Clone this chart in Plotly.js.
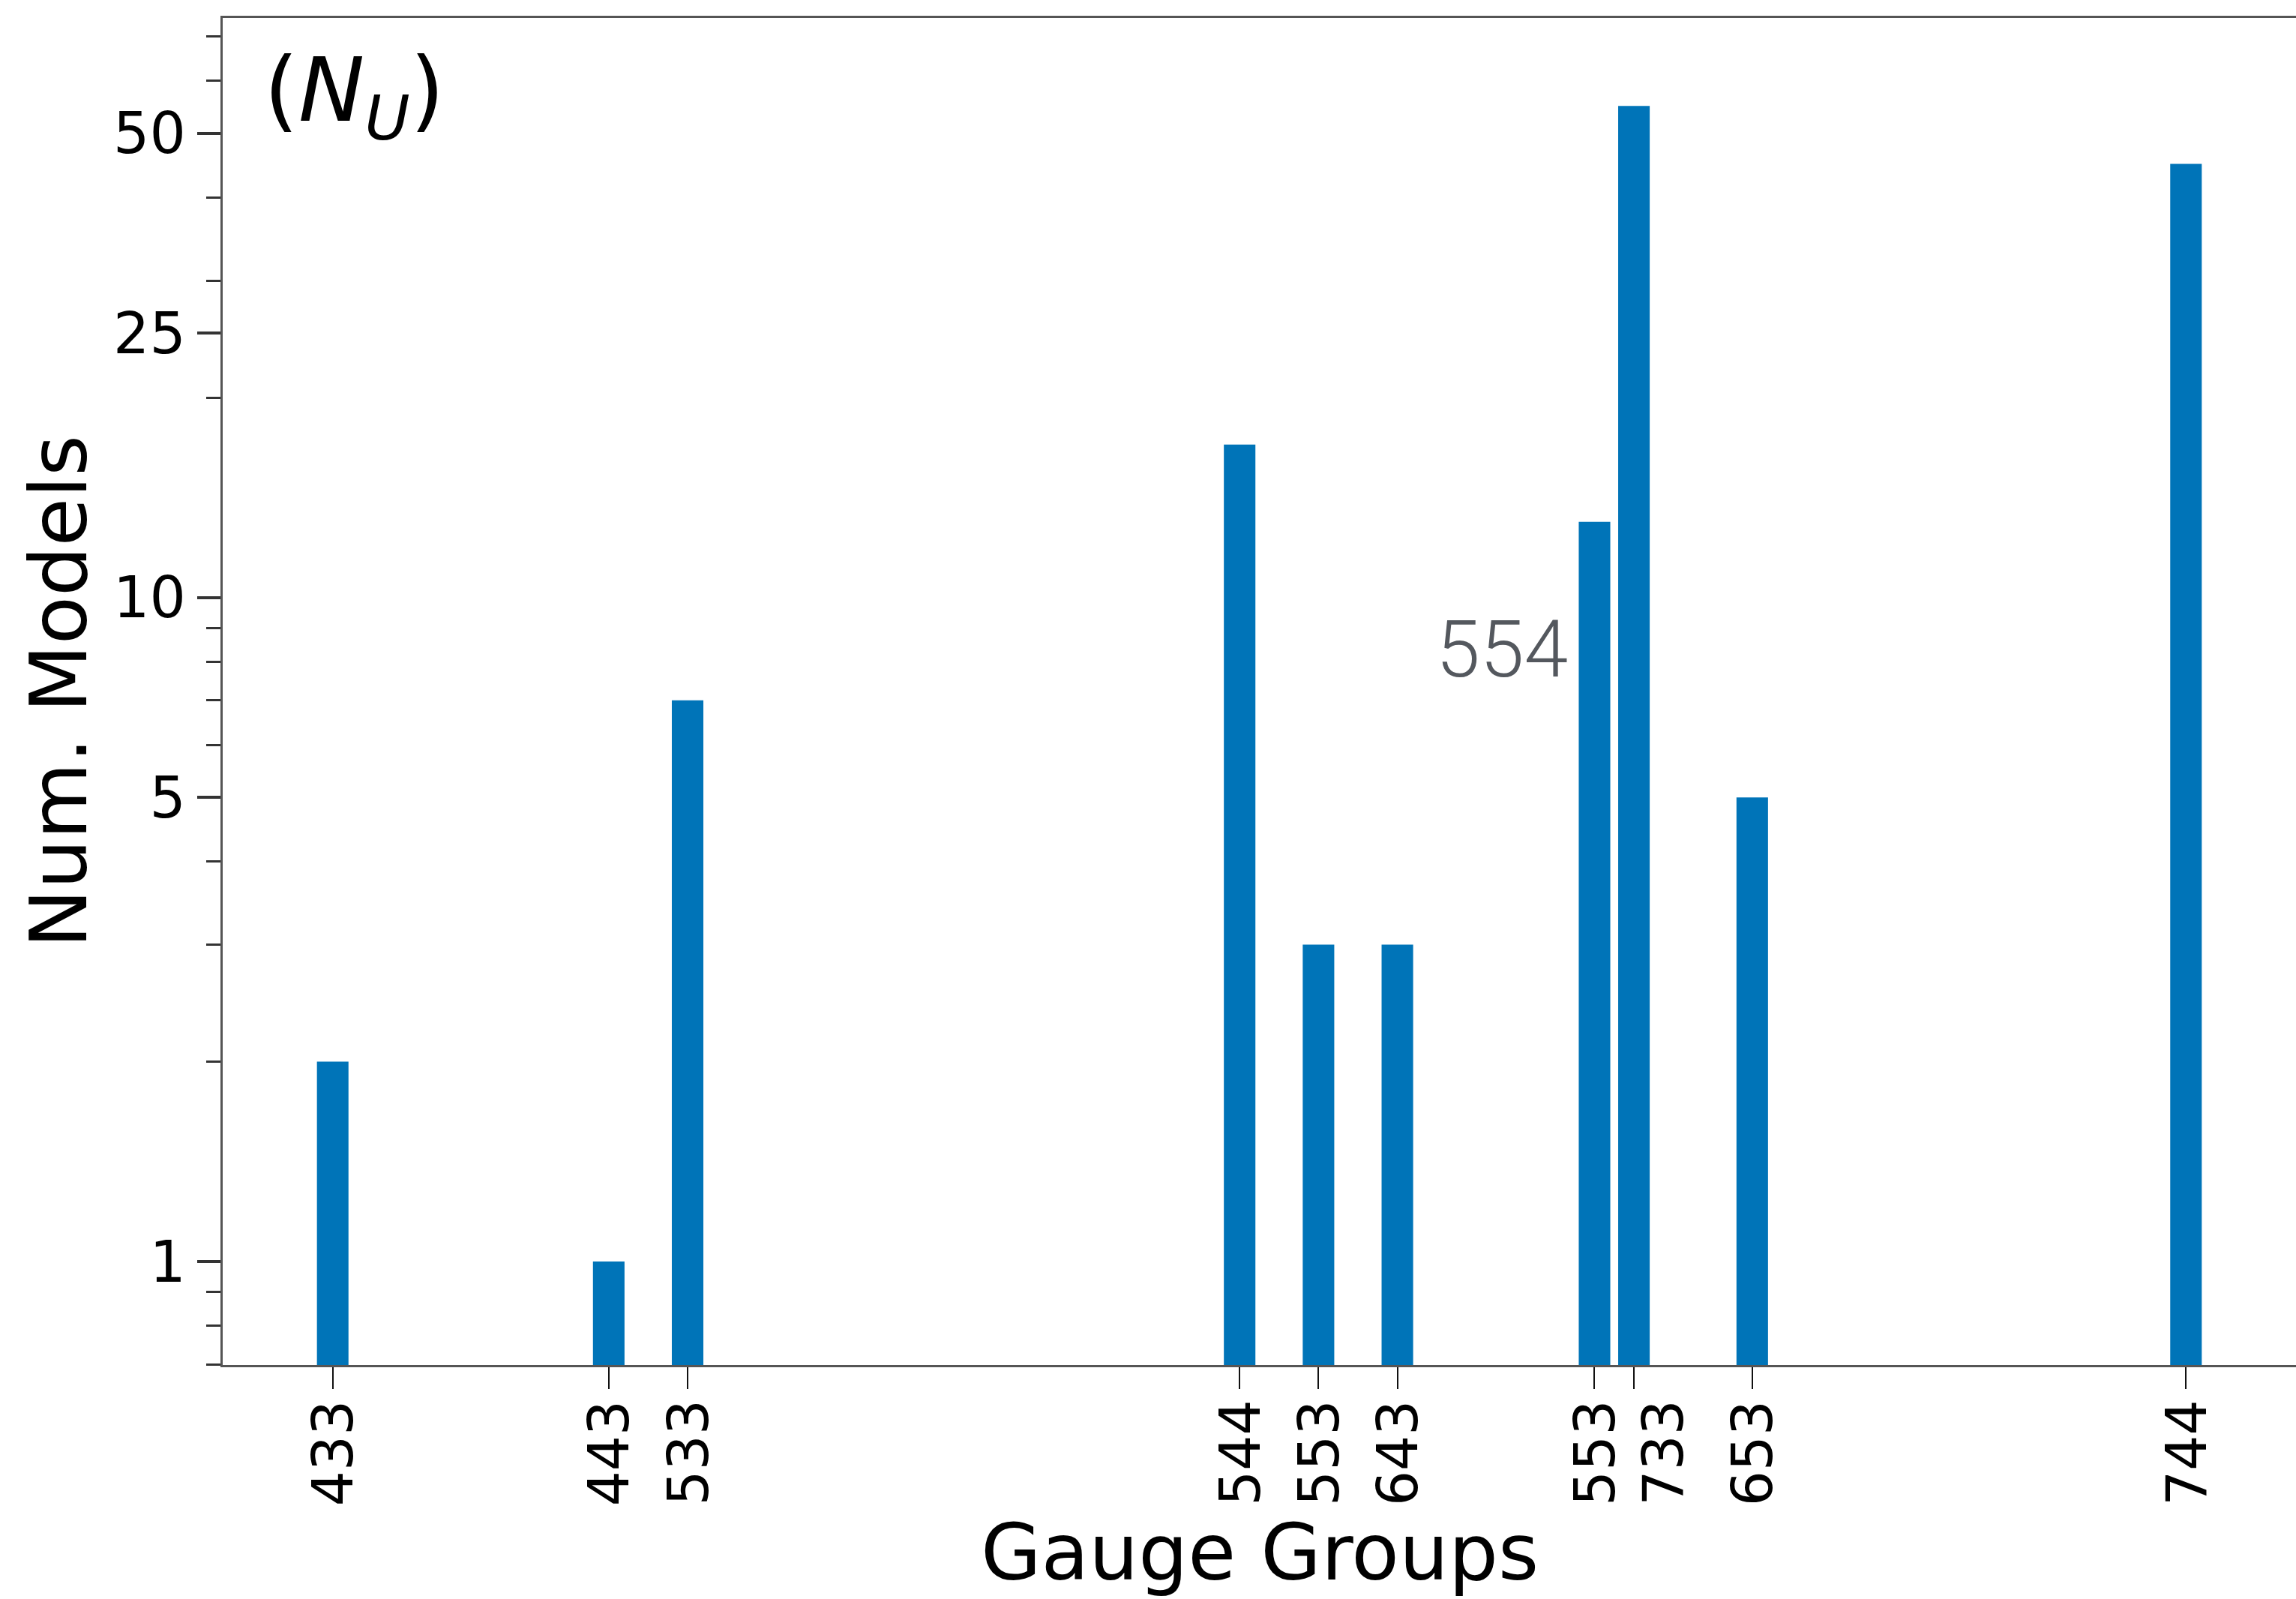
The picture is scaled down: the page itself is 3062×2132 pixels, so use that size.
<!DOCTYPE html>
<html>
<head>
<meta charset="utf-8">
<script src="https://cdn.plot.ly/plotly-3.0.1.min.js"></script>
<style>html,body{margin:0;padding:0;background:#fff;}#chart{width:3062px;height:2132px;}</style>
</head>
<body>
<div id="chart"></div>
<script>
// Gauge group dimensions (x position) and their tick labels
const groupDims = [31, 38, 40, 54, 56, 58, 63, 64, 67, 78];
const groupLabels = ["433", "443", "533", "544", "553", "643", "553", "733", "653", "744"];
// Number of models per gauge group
const numModels = [2, 1, 7, 17, 3, 3, 13, 55, 5, 45];
// Y axis ticks
const yMajorTicks = [1, 5, 10, 25, 50];
const yMajorLabels = ["1", "5", "10", "25", "50"];
const yMinorTicks = [0.7, 0.8, 0.9, 2, 3, 4, 6, 7, 8, 9, 20, 30, 40, 60, 70];

// horizontal nudge (px) of individual tick labels, as drawn in the reference
const labelNudge = [0, 0, 0, 0, 0, 0, 0, 38, 0, 0];

const trace = {
  type: "bar",
  x: groupDims,
  y: numModels,
  width: 0.8,
  marker: {color: "#0074B8", line: {width: 0}},
  hoverinfo: "skip"
};

const tickLabelAnnotations = groupDims.map((d, i) => ({
  xref: "x", yref: "paper", x: d, y: 0,
  xanchor: "center", yanchor: "top",
  yshift: -46, xshift: labelNudge[i],
  textangle: -90,
  text: groupLabels[i], showarrow: false, borderpad: 0,
  font: {family: "DejaVu Sans", size: 74, color: "#000000"}
}));

const layout = {
  width: 3062,
  height: 2132,
  paper_bgcolor: "#ffffff",
  plot_bgcolor: "#ffffff",
  margin: {l: 297, r: 0, t: 24, b: 312, pad: 0},
  showlegend: false,
  font: {family: "DejaVu Sans", color: "#000000"},
  xaxis: {
    range: [28.21, 80.79],
    tickmode: "array",
    tickvals: groupDims,
    ticktext: groupLabels,
    showticklabels: false,
    ticks: "outside",
    ticklen: 29,
    tickwidth: 2,
    tickcolor: "#111111",
    showline: true,
    linecolor: "#555555",
    linewidth: 3,
    mirror: true,
    showgrid: false,
    zeroline: false,
    automargin: false
  },
  yaxis: {
    type: "log",
    range: [-0.1559, 1.8728],
    tickmode: "array",
    tickvals: yMajorTicks,
    ticktext: yMajorLabels,
    ticks: "outside",
    ticklen: 31,
    tickwidth: 4,
    tickcolor: "#333333",
    tickfont: {family: "DejaVu Sans", size: 76, color: "#000000"},
    minor: {tickmode: "array", tickvals: yMinorTicks, ticks: "outside", ticklen: 19, tickwidth: 3, tickcolor: "#333333", showgrid: false},
    showline: true,
    linecolor: "#555555",
    linewidth: 3,
    showgrid: false,
    zeroline: false,
    automargin: false,
    title: {text: "Num. Models", font: {family: "DejaVu Sans", size: 105, color: "#000000"}, standoff: 1}
  },
  annotations: tickLabelAnnotations.concat([
    {
      xref: "paper", yref: "paper", x: 0.5, y: -0.104, xanchor: "center", yanchor: "top",
      text: "Gauge Groups", showarrow: false,
      font: {family: "DejaVu Sans", size: 104, color: "#000000"}
    },
    {
      xref: "paper", yref: "paper", x: 0.019, y: 0.986, xanchor: "left", yanchor: "top",
      text: "(<i>N<sub>U</sub></i>)", showarrow: false,
      font: {family: "DejaVu Sans", size: 118, color: "#000000"}
    },
    {
      xref: "paper", yref: "paper", x: 0.6495, y: 0.531, xanchor: "right", yanchor: "middle",
      text: "554", showarrow: false,
      font: {family: "Roboto", size: 106, weight: 300, color: "#54585e"}
    }
  ])
};

Plotly.newPlot("chart", [trace], layout, {staticPlot: true, displayModeBar: false});
</script>
</body>
</html>
